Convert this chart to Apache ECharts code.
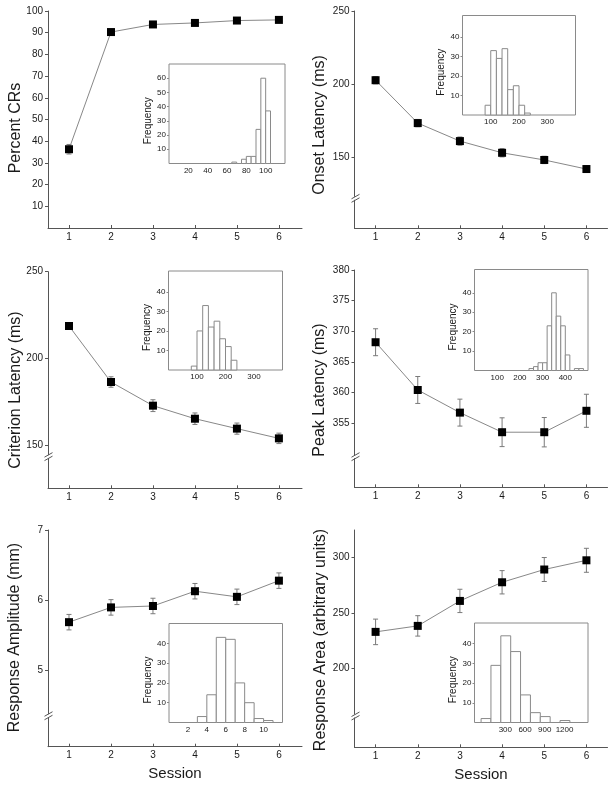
<!DOCTYPE html>
<html><head><meta charset="utf-8">
<script src="https://cdn.jsdelivr.net/npm/echarts@6/dist/echarts.min.js"></script>
<style>html,body{margin:0;padding:0;background:#fff}#c{width:615px;height:788px}</style>
</head><body><div id="c"></div>
<script>
// ---------- data ----------
const sessions = [1, 2, 3, 4, 5, 6];
const sessionTicks = [1, 2, 3, 4, 5, 6];

const percentCRs = [36.3, 90.3, 93.8, 94.5, 95.6, 95.9];
const percentCRsErr = [2.2, 0.8, 0.6, 0.6, 0.5, 0.5];
const onsetLatency = [202.7, 173.4, 161.1, 153.1, 148.2, 142.0];
const onsetLatencyErr = [2.5, 2.5, 2.8, 2.8, 2.5, 2.2];
const criterionLatency = [218.8, 186.6, 173.0, 165.5, 159.8, 154.2];
const criterionLatencyErr = [2.0, 3.0, 3.4, 3.3, 3.2, 3.0];
const peakLatency = [368.2, 360.4, 356.7, 353.5, 353.5, 357.0];
const peakLatencyErr = [2.2, 2.2, 2.2, 2.35, 2.4, 2.7];
const responseAmplitude = [5.69, 5.90, 5.92, 6.13, 6.05, 6.28];
const responseAmplitudeErr = [0.11, 0.11, 0.11, 0.11, 0.11, 0.11];
const responseArea = [233.2, 238.6, 261.1, 277.9, 289.4, 297.7];
const responseAreaErr = [11.5, 9.2, 10.5, 10.5, 10.8, 10.8];

const percentTicks = [10, 20, 30, 40, 50, 60, 70, 80, 90, 100];
const onsetTicks = [150, 200, 250];
const criterionTicks = [150, 200, 250];
const peakTicks = [355, 360, 365, 370, 375, 380];
const amplitudeTicks = [5, 6, 7];
const areaTicks = [200, 250, 300];

// histograms (bin start, bin width, counts)
const histPercentBins = [65, 75, 80, 85, 90, 95, 100];
const histPercentWidth = 5;
const histPercentCounts = [1, 3, 5, 5, 24, 60, 37];
const histOnsetBins = [80, 100, 120, 140, 160, 180, 200, 220];
const histOnsetWidth = 20;
const histOnsetCounts = [5, 33, 29, 34, 13, 15, 5, 1];
const histCriterionBins = [80, 100, 120, 140, 160, 180, 200, 220];
const histCriterionWidth = 20;
const histCriterionCounts = [2, 20, 33, 22, 25, 16, 12, 5];
const histPeakBins = [240, 260, 280, 300, 320, 340, 360, 380, 400, 420, 440, 460];
const histPeakWidth = 20;
const histPeakCounts = [1, 2, 4, 4, 23, 40, 28, 23, 8, 0, 1, 1];
const histAmplitudeBins = [3, 4, 5, 6, 7, 8, 9, 10];
const histAmplitudeWidth = 1;
const histAmplitudeCounts = [3, 14, 43, 42, 20, 10, 2, 1];
const histAreaBins = [0, 150, 300, 450, 600, 750, 900, 1050, 1200];
const histAreaWidth = 150;
const histAreaCounts = [2, 29, 44, 36, 14, 5, 3, 0, 1];

const histPercentTicks = [20, 40, 60, 80, 100];
const histPercentYTicks = [10, 20, 30, 40, 50, 60];
const histLatencyTicks = [100, 200, 300];
const histPeakTicks = [100, 200, 300, 400];
const histAmplitudeTicks = [2, 4, 6, 8, 10];
const histAreaTicks = [300, 600, 900, 1200];
const histFreqTicks = [10, 20, 30, 40];

// ---------- layout ----------
const FONT = '"Liberation Sans", Arial, sans-serif';
const panels = [
  { name: 'Percent CRs', vals: percentCRs, errs: percentCRsErr, yMin: 0, yMax: 100, yTicks: percentTicks, brk: null,
    grid: { left: 48, top: 11, width: 254, height: 217 }, xMax: 6.55, nameAt: [15.5, 128], session: false,
    inset: { grid: { left: 169, top: 64, width: 116, height: 99.5 }, bins: histPercentBins, w: histPercentWidth, counts: histPercentCounts,
      xMin: 0, xMax: 120, xTicks: histPercentTicks, yMax: 70, yTicks: histPercentYTicks, xPad: 0 } },
  { name: 'Onset Latency (ms)', vals: onsetLatency, errs: onsetLatencyErr, yMin: 101.5, yMax: 250, yTicks: onsetTicks, brk: 122,
    grid: { left: 354.5, top: 11, width: 253, height: 217.3 }, xMax: 6.5, nameAt: [320, 125], session: false,
    inset: { grid: { left: 462.5, top: 15.5, width: 113, height: 99.5 }, bins: histOnsetBins, w: histOnsetWidth, counts: histOnsetCounts,
      xMin: 0, xMax: 400, xTicks: histLatencyTicks, yMax: 51, yTicks: histFreqTicks, xPad: 0 } },
  { name: 'Criterion Latency (ms)', vals: criterionLatency, errs: criterionLatencyErr, yMin: 125.5, yMax: 250, yTicks: criterionTicks, brk: 143.7,
    grid: { left: 48, top: 271.7, width: 254, height: 216.6 }, xMax: 6.55, nameAt: [15.5, 390], session: false,
    inset: { grid: { left: 168.5, top: 271, width: 114, height: 99 }, bins: histCriterionBins, w: histCriterionWidth, counts: histCriterionCounts,
      xMin: 0, xMax: 400, xTicks: histLatencyTicks, yMax: 50.7, yTicks: histFreqTicks, xPad: 0 } },
  { name: 'Peak Latency (ms)', vals: peakLatency, errs: peakLatencyErr, yMin: 344.5, yMax: 380, yTicks: peakTicks, brk: 349.5,
    grid: { left: 354.5, top: 270, width: 253, height: 217.3 }, xMax: 6.5, nameAt: [320, 390], session: false,
    inset: { grid: { left: 474.5, top: 269.5, width: 113.5, height: 101 }, bins: histPeakBins, w: histPeakWidth, counts: histPeakCounts,
      xMin: 0, xMax: 500, xTicks: histPeakTicks, yMax: 52, yTicks: histFreqTicks, xPad: 0 } },
  { name: 'Response Amplitude (mm)', vals: responseAmplitude, errs: responseAmplitudeErr, yMin: 3.92, yMax: 7, yTicks: amplitudeTicks, brk: 4.36,
    grid: { left: 48, top: 530, width: 254, height: 216.7 }, xMax: 6.55, nameAt: [14.5, 637.5], session: true,
    inset: { grid: { left: 169, top: 623.5, width: 113.5, height: 99 }, bins: histAmplitudeBins, w: histAmplitudeWidth, counts: histAmplitudeCounts,
      xMin: 0, xMax: 12, xTicks: histAmplitudeTicks, yMax: 50, yTicks: histFreqTicks, xPad: 0 } },
  { name: 'Response Area (arbitrary units)', vals: responseArea, errs: responseAreaErr, yMin: 129.2, yMax: 325, yTicks: areaTicks, brk: 157.4,
    grid: { left: 354.5, top: 530, width: 253, height: 217.3 }, xMax: 6.5, nameAt: [321, 640], session: true,
    inset: { grid: { left: 474.5, top: 623, width: 113.5, height: 99.5 }, bins: histAreaBins, w: histAreaWidth, counts: histAreaCounts,
      xMin: -100, xMax: 1625, xTicks: histAreaTicks, yMax: 50.5, yTicks: histFreqTicks, xPad: 9 } }
];

const AXIS = '#555';
const TXT = '#1a1a1a';
const plain = v => String(v);

function errRender(params, api) {
  const x = api.value(0), lo = api.value(1), hi = api.value(2);
  const p1 = api.coord([x, lo]), p2 = api.coord([x, hi]);
  const cw = 2.5;
  const style = { stroke: '#7a7a7a', lineWidth: 1 };
  return { type: 'group', children: [
    { type: 'line', shape: { x1: p1[0], y1: p1[1], x2: p2[0], y2: p2[1] }, style },
    { type: 'line', shape: { x1: p1[0] - cw, y1: p1[1], x2: p1[0] + cw, y2: p1[1] }, style },
    { type: 'line', shape: { x1: p2[0] - cw, y1: p2[1], x2: p2[0] + cw, y2: p2[1] }, style }
  ]};
}
function histRender(params, api) {
  const a = api.coord([api.value(0), api.value(2)]);
  const b = api.coord([api.value(1), 0]);
  return { type: 'rect', shape: { x: a[0], y: a[1], width: b[0] - a[0], height: b[1] - a[1] },
    style: { fill: '#fff', stroke: '#8a8a8a', lineWidth: 1 } };
}

const grid = [], xAxis = [], yAxis = [], series = [];
panels.forEach((p, i) => {
  grid.push(Object.assign({ containLabel: false }, p.grid));
  xAxis.push({
    type: 'value', gridIndex: i, min: 0.5, max: p.xMax,
    axisLine: { show: true, onZero: false, lineStyle: { color: AXIS, width: 1 } },
    axisTick: { show: true, inside: true, length: 3, customValues: sessionTicks, lineStyle: { color: AXIS } },
    axisLabel: { customValues: sessionTicks, formatter: plain, hideOverlap: false, fontSize: 10, color: TXT, margin: 4, fontFamily: FONT },
    splitLine: { show: false },
    name: p.session ? 'Session' : '', nameLocation: 'middle', nameGap: 20,
    nameTextStyle: { fontSize: 15, color: TXT, fontFamily: FONT }
  });
  yAxis.push({
    type: 'value', gridIndex: i, min: p.yMin, max: p.yMax,
    axisLine: { show: true, onZero: false, lineStyle: { color: AXIS, width: 1 } },
    axisTick: { show: true, inside: false, length: 3, customValues: p.yTicks, lineStyle: { color: AXIS } },
    axisLabel: { customValues: p.yTicks, formatter: plain, hideOverlap: false, fontSize: 10, color: TXT, margin: 5, fontFamily: FONT },
    splitLine: { show: false }
  });
  series.push({
    type: 'custom', xAxisIndex: i, yAxisIndex: i, renderItem: errRender, z: 2,
    encode: { x: 0, y: [1, 2] },
    data: sessions.map((s, k) => [s, p.vals[k] - p.errs[k], p.vals[k] + p.errs[k]])
  });
  series.push({
    type: 'line', xAxisIndex: i, yAxisIndex: i, z: 3,
    data: sessions.map((s, k) => [s, p.vals[k]]),
    symbol: 'rect', symbolSize: 8, itemStyle: { color: '#000' },
    lineStyle: { color: '#888', width: 1 }
  });
});
panels.forEach((p, i) => {
  const j = i + 6, q = p.inset;
  grid.push(Object.assign({ show: true, borderColor: '#8a8a8a', borderWidth: 1, backgroundColor: '#fff', z: 4 }, q.grid));
  xAxis.push({
    type: 'value', gridIndex: j, min: q.xMin, max: q.xMax, z: 5,
    axisLine: { show: false, onZero: false },
    axisTick: { show: false, customValues: q.xTicks },
    axisLabel: { customValues: q.xTicks, formatter: plain, hideOverlap: false, fontSize: 8, color: TXT, margin: 3, fontFamily: FONT,
      padding: [0, 0, 0, q.xPad] },
    splitLine: { show: false }
  });
  yAxis.push({
    type: 'value', gridIndex: j, min: 0, max: q.yMax, z: 5,
    axisLine: { show: false, onZero: false },
    axisTick: { show: true, inside: false, length: 2, customValues: q.yTicks, lineStyle: { color: '#8a8a8a' } },
    axisLabel: { customValues: q.yTicks, formatter: plain, hideOverlap: false, fontSize: 8, color: TXT, margin: 3, fontFamily: FONT },
    splitLine: { show: false },
    name: 'Frequency', nameLocation: 'middle', nameGap: 14,
    nameTextStyle: { fontSize: 10, color: TXT, fontFamily: FONT, padding: [0, 14, 0, 0] }
  });
  series.push({
    type: 'custom', xAxisIndex: j, yAxisIndex: j, renderItem: histRender, z: 6,
    encode: { x: [0, 1], y: 2 },
    data: q.bins.map((b, k) => [b, b + q.w, q.counts[k]])
  });
});

const chart = echarts.init(document.getElementById('c'), null, { renderer: 'canvas' });
chart.setOption({ animation: false, backgroundColor: '#fff', grid, xAxis, yAxis, series });

// y-axis titles and axis break marks
const graphic = [];
panels.forEach((p, i) => {
  graphic.push({ type: 'text', x: p.nameAt[0], y: p.nameAt[1], rotation: Math.PI / 2, z: 50,
    style: { text: p.name, fill: TXT, font: '16px ' + FONT, align: 'center', verticalAlign: 'middle',
      textAlign: 'center', textVerticalAlign: 'middle' } });
  if (p.brk == null) return;
  const pt = chart.convertToPixel({ xAxisIndex: i, yAxisIndex: i }, [0.5, p.brk]);
  const x = Math.round(pt[0]) + 0.5, y = pt[1];
  const st = { stroke: AXIS, lineWidth: 1 };
  graphic.push({ type: 'rect', z: 100, shape: { x: x - 2, y: y - 1.5, width: 4, height: 3 }, style: { fill: '#fff' } });
  graphic.push({ type: 'line', z: 101, shape: { x1: x - 4, y1: y + 0.5, x2: x + 4, y2: y - 4 }, style: st });
  graphic.push({ type: 'line', z: 101, shape: { x1: x - 4, y1: y + 4, x2: x + 4, y2: y - 0.5 }, style: st });
});
chart.setOption({ graphic });
</script>
</body></html>
